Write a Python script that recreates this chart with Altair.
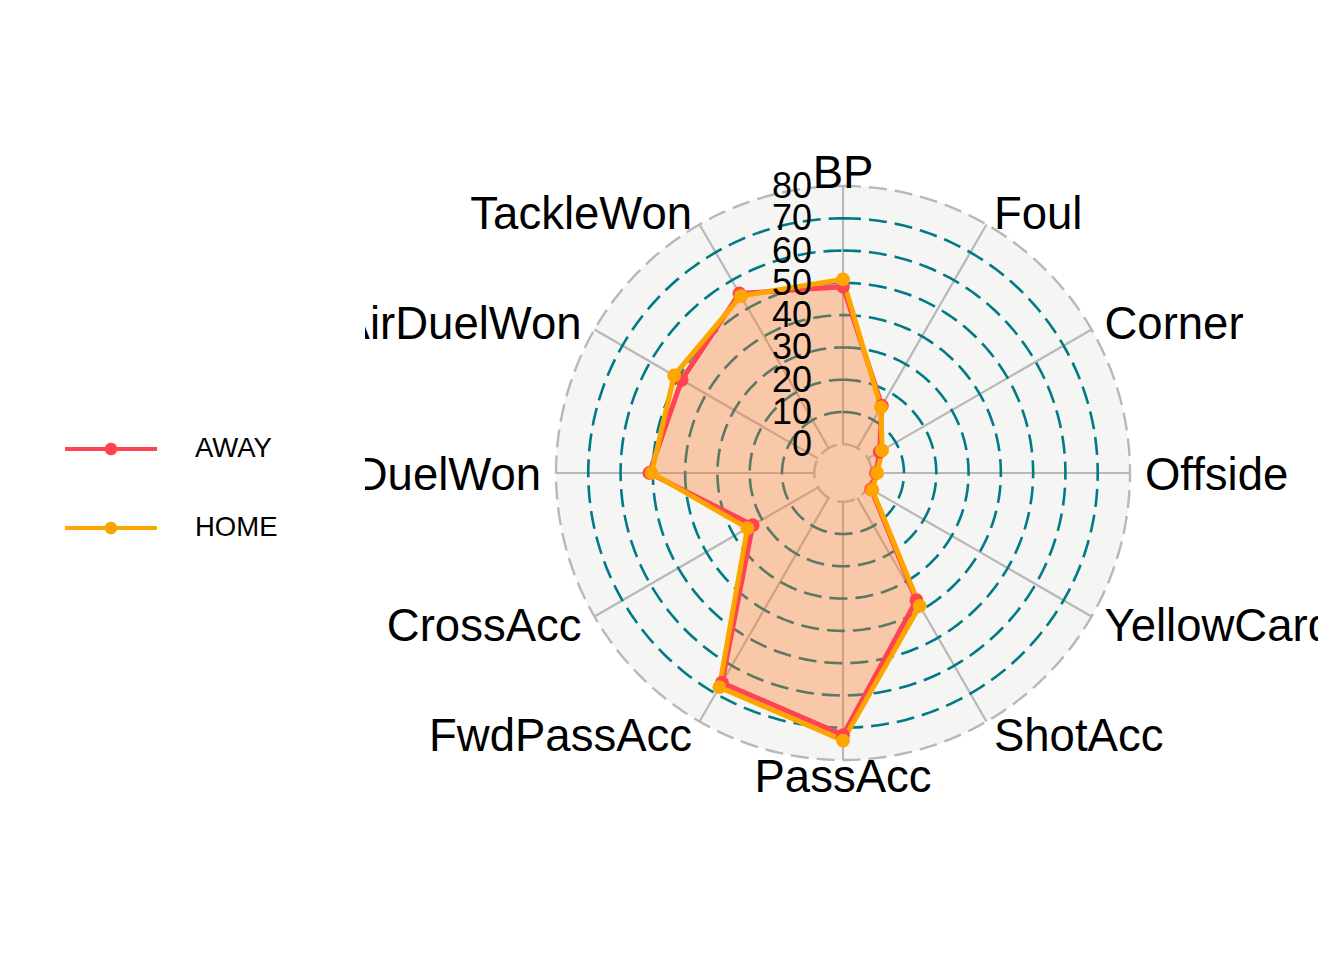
import altair as alt
import numpy as np
import pandas as pd

# ---------------- data ----------------
categories = ["BP", "Foul", "Corner", "Offside", "YellowCard", "ShotAcc",
              "PassAcc", "FwdPassAcc", "CrossAcc", "DuelWon", "AirDuelWon", "TackleWon"]
away = [48.8, 15.2, 4.2, 1.3, 1.2, 36.6, 72.3, 66.1, 23.4, 51.1, 48.8, 55.3]
home = [51.1, 14.6, 5.1, 1.7, 1.6, 38.6, 74.0, 67.7, 25.3, 50.4, 51.5, 54.4]
teams = ["AWAY", "HOME"]
team_colors = ["#FF4350", "#FFA500"]
grid_values = [0, 10, 20, 30, 40, 50, 60, 70, 80]
tick_labels = ["0", "10", "20", "30", "40", "50", "60", "70", "80"]

# ---------------- geometry ----------------
GRID_MIN, GRID_MAX = 0, 80
CENTRE = (GRID_MAX - GRID_MIN) / 9.0      # hole in the middle of the radar
R_OUT = GRID_MAX - GRID_MIN + CENTRE
LABEL_R = R_OUT * 1.052

PX = 287.0 / R_OUT                        # pixels per unit
VIEW_W, VIEW_H = 953, 960
CX, CY = 478, 473                          # centre position inside the view
xdom = [-CX / PX, (VIEW_W - CX) / PX]
ydom = [-(VIEW_H - CY) / PX, CY / PX]
TICK_X = -31.0 / PX

FONT = "Liberation Sans"

n = len(categories)
ang = np.arange(n) * 2 * np.pi / n


def rad(v):
    return v - GRID_MIN + CENTRE


rows = []
for t, vals in zip(teams, [away, home]):
    for i, v in enumerate(vals):
        r = rad(v)
        rows.append(dict(team=t, team_f=t, team_s=t, cat=categories[i], value=v, order=i,
                         x=r * np.sin(ang[i]), y=r * np.cos(ang[i])))
series = pd.DataFrame(rows)

circ = np.linspace(0, 2 * np.pi, 361)
ring_rows = []
for g in grid_values:
    r = rad(g)
    kind = "edge" if g in (GRID_MIN, GRID_MAX) else "mid"
    for k, a in enumerate(circ):
        ring_rows.append(dict(g=g, k=k, kind=kind, x=r * np.sin(a), y=r * np.cos(a)))
rings = pd.DataFrame(ring_rows)
disc = rings[rings.g == GRID_MAX]

spokes = pd.DataFrame(dict(
    cat=categories,
    x=[rad(GRID_MIN) * np.sin(a) for a in ang],
    y=[rad(GRID_MIN) * np.cos(a) for a in ang],
    x2=[rad(GRID_MAX) * np.sin(a) for a in ang],
    y2=[rad(GRID_MAX) * np.cos(a) for a in ang],
))

labels = pd.DataFrame(dict(
    cat=categories,
    x=[LABEL_R * np.sin(a) for a in ang],
    y=[LABEL_R * np.cos(a) for a in ang],
    side=["center" if abs(np.sin(a)) < 0.01 else ("left" if np.sin(a) > 0 else "right") for a in ang],
))

ticks = pd.DataFrame(dict(lab=tick_labels, x=[TICK_X] * len(grid_values),
                          y=[rad(g) for g in grid_values]))

# ---------------- encodings ----------------
xs = alt.Scale(domain=xdom, nice=False, zero=False)
ys = alt.Scale(domain=ydom, nice=False, zero=False)
X = alt.X("x:Q", scale=xs, axis=None)
Y = alt.Y("y:Q", scale=ys, axis=None)

LEGEND_PATH = ("M-3.067,-0.14 L3.067,-0.14 L3.067,0.14 L-3.067,0.14 Z "
               "M-0.42,0 A0.42,0.42 0 1,1 0.42,0 A0.42,0.42 0 1,1 -0.42,0 Z")

bg = alt.Chart(disc).mark_line(interpolate="linear-closed", fill="#F5F5F3",
                               strokeOpacity=0).encode(x=X, y=Y, order="k:Q")

spoke_layer = alt.Chart(spokes).mark_rule(color="#B8B8B8", strokeWidth=2.2).encode(
    x=X, y=Y, x2="x2:Q", y2="y2:Q")

ring_mid = alt.Chart(rings[rings.kind == "mid"]).mark_line(
    color="#007A87", strokeWidth=2.6, strokeDash=[18, 8]).encode(
    x=X, y=Y, detail="g:N", order="k:Q")

ring_edge = alt.Chart(rings[rings.kind == "edge"]).mark_line(
    color="#B8B8B8", strokeWidth=2.4, strokeDash=[18, 8]).encode(
    x=X, y=Y, detail="g:N", order="k:Q")

fills = alt.Chart(series).mark_line(interpolate="linear-closed", fillOpacity=0.2,
                                    strokeOpacity=0).encode(
    x=X, y=Y, fill=alt.Fill("team_f:N", scale=alt.Scale(range=team_colors), legend=None),
    order="order:Q")

lines = alt.Chart(series).mark_line(interpolate="linear-closed", strokeWidth=5).encode(
    x=X, y=Y, stroke=alt.Stroke("team_s:N", scale=alt.Scale(range=team_colors), legend=None),
    order="order:Q")

points = alt.Chart(series).mark_point(filled=True, size=190, opacity=1).encode(
    x=X, y=Y,
    color=alt.Color("team:N", scale=alt.Scale(domain=teams, range=team_colors),
                    legend=alt.Legend(title=None, orient="none", legendX=-269, legendY=434,
                                      symbolType=LEGEND_PATH, symbolSize=900,
                                      symbolStrokeWidth=0,
                                      labelFont=FONT, labelFontSize=27.5, labelColor="black",
                                      labelOffset=69, rowPadding=50)))

tick_layer = alt.Chart(ticks).mark_text(font=FONT, fontSize=36, align="right",
                                        baseline="middle", color="black", dy=1).encode(
    x=X, y=Y, text="lab:N")

label_layers = []
for side in ["left", "right", "center"]:
    label_layers.append(
        alt.Chart(labels[labels.side == side]).mark_text(
            font=FONT, fontSize=45.5, align=side, baseline="middle", color="black",
            clip=True, dy=3
        ).encode(x=X, y=Y, text="cat:N"))

chart = alt.layer(bg, spoke_layer, ring_edge, ring_mid, fills, lines, points,
                  tick_layer, *label_layers).properties(
    width=VIEW_W, height=VIEW_H,
    padding={"left": 365, "right": 0, "top": 0, "bottom": 0},
    autosize=alt.AutoSizeParams(type="none"),
    background="white",
).configure_view(strokeWidth=0)

chart.save("out.html", embed_options={"renderer": "svg", "actions": False})
